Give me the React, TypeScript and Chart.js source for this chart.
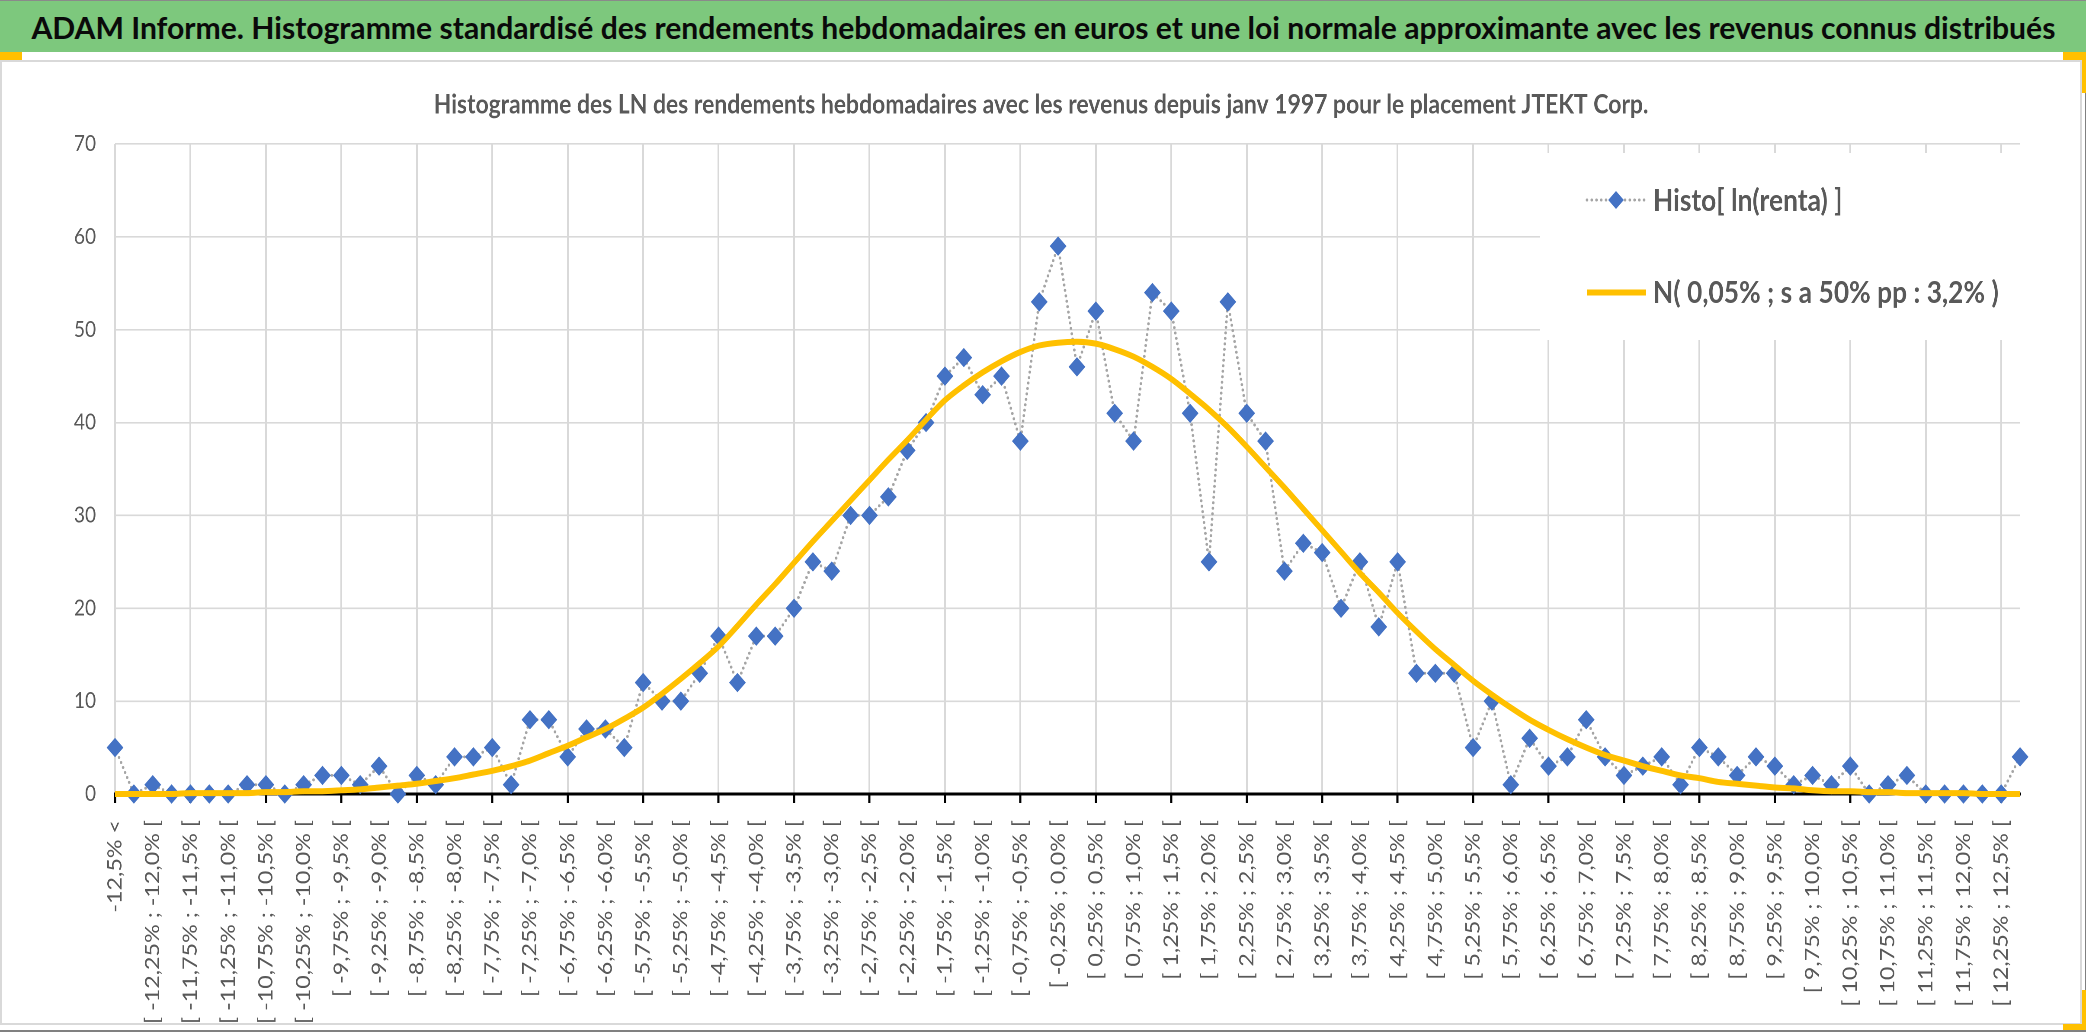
import React, { useEffect, useLayoutEffect, useRef } from "react";
import { Chart, registerables } from "chart.js";

Chart.register(...registerables);

// ---------- texts ----------
const headerTitle =
  "ADAM Informe. Histogramme standardisé des rendements hebdomadaires en euros et une loi normale approximante avec les revenus connus distribués";
const chartTitle =
  "Histogramme des LN des rendements hebdomadaires avec les revenus depuis janv 1997 pour le placement JTEKT Corp.";
const histoLabel = "Histo[ ln(renta) ]";
const normalLabel = "N( 0,05% ; s a 50% pp : 3,2% )";

// ---------- categories (weekly return bins) ----------
const categories = [
  "-12,5% <",
  "[ -12,5% ; -12,25% [", "[ -12,25% ; -12,0% [", "[ -12,0% ; -11,75% [", "[ -11,75% ; -11,5% [",
  "[ -11,5% ; -11,25% [", "[ -11,25% ; -11,0% [", "[ -11,0% ; -10,75% [", "[ -10,75% ; -10,5% [",
  "[ -10,5% ; -10,25% [", "[ -10,25% ; -10,0% [", "[ -10,0% ; -9,75% [", "[ -9,75% ; -9,5% [",
  "[ -9,5% ; -9,25% [", "[ -9,25% ; -9,0% [", "[ -9,0% ; -8,75% [", "[ -8,75% ; -8,5% [",
  "[ -8,5% ; -8,25% [", "[ -8,25% ; -8,0% [", "[ -8,0% ; -7,75% [", "[ -7,75% ; -7,5% [",
  "[ -7,5% ; -7,25% [", "[ -7,25% ; -7,0% [", "[ -7,0% ; -6,75% [", "[ -6,75% ; -6,5% [",
  "[ -6,5% ; -6,25% [", "[ -6,25% ; -6,0% [", "[ -6,0% ; -5,75% [", "[ -5,75% ; -5,5% [",
  "[ -5,5% ; -5,25% [", "[ -5,25% ; -5,0% [", "[ -5,0% ; -4,75% [", "[ -4,75% ; -4,5% [",
  "[ -4,5% ; -4,25% [", "[ -4,25% ; -4,0% [", "[ -4,0% ; -3,75% [", "[ -3,75% ; -3,5% [",
  "[ -3,5% ; -3,25% [", "[ -3,25% ; -3,0% [", "[ -3,0% ; -2,75% [", "[ -2,75% ; -2,5% [",
  "[ -2,5% ; -2,25% [", "[ -2,25% ; -2,0% [", "[ -2,0% ; -1,75% [", "[ -1,75% ; -1,5% [",
  "[ -1,5% ; -1,25% [", "[ -1,25% ; -1,0% [", "[ -1,0% ; -0,75% [", "[ -0,75% ; -0,5% [",
  "[ -0,5% ; -0,25% [", "[ -0,25% ; 0,0% [", "[ 0,0% ; 0,25% [", "[ 0,25% ; 0,5% [",
  "[ 0,5% ; 0,75% [", "[ 0,75% ; 1,0% [", "[ 1,0% ; 1,25% [", "[ 1,25% ; 1,5% [",
  "[ 1,5% ; 1,75% [", "[ 1,75% ; 2,0% [", "[ 2,0% ; 2,25% [", "[ 2,25% ; 2,5% [",
  "[ 2,5% ; 2,75% [", "[ 2,75% ; 3,0% [", "[ 3,0% ; 3,25% [", "[ 3,25% ; 3,5% [",
  "[ 3,5% ; 3,75% [", "[ 3,75% ; 4,0% [", "[ 4,0% ; 4,25% [", "[ 4,25% ; 4,5% [",
  "[ 4,5% ; 4,75% [", "[ 4,75% ; 5,0% [", "[ 5,0% ; 5,25% [", "[ 5,25% ; 5,5% [",
  "[ 5,5% ; 5,75% [", "[ 5,75% ; 6,0% [", "[ 6,0% ; 6,25% [", "[ 6,25% ; 6,5% [",
  "[ 6,5% ; 6,75% [", "[ 6,75% ; 7,0% [", "[ 7,0% ; 7,25% [", "[ 7,25% ; 7,5% [",
  "[ 7,5% ; 7,75% [", "[ 7,75% ; 8,0% [", "[ 8,0% ; 8,25% [", "[ 8,25% ; 8,5% [",
  "[ 8,5% ; 8,75% [", "[ 8,75% ; 9,0% [", "[ 9,0% ; 9,25% [", "[ 9,25% ; 9,5% [",
  "[ 9,5% ; 9,75% [", "[ 9,75% ; 10,0% [", "[ 10,0% ; 10,25% [", "[ 10,25% ; 10,5% [",
  "[ 10,5% ; 10,75% [", "[ 10,75% ; 11,0% [", "[ 11,0% ; 11,25% [", "[ 11,25% ; 11,5% [",
  "[ 11,5% ; 11,75% [", "[ 11,75% ; 12,0% [", "[ 12,0% ; 12,25% [", "[ 12,25% ; 12,5% [",
  "> 12,5%",
];

// ---------- series ----------
const histoValues = [
  5, 0, 1, 0, 0, 0, 0, 1, 1, 0,
  1, 2, 2, 1, 3, 0, 2, 1, 4, 4,
  5, 1, 8, 8, 4, 7, 7, 5, 12, 10,
  10, 13, 17, 12, 17, 17, 20, 25, 24, 30,
  30, 32, 37, 40, 45, 47, 43, 45, 38, 53,
  59, 46, 52, 41, 38, 54, 52, 41, 25, 53,
  41, 38, 24, 27, 26, 20, 25, 18, 25, 13,
  13, 13, 5, 10, 1, 6, 3, 4, 8, 4,
  2, 3, 4, 1, 5, 4, 2, 4, 3, 1,
  2, 1, 3, 0, 1, 2, 0, 0, 0, 0,
  0, 4,
];

const normalValues = [
  0.0, 0.0, 0.0, 0.0, 0.1, 0.1, 0.1, 0.1, 0.2, 0.2,
  0.3, 0.3, 0.4, 0.5, 0.7, 0.9, 1.1, 1.4, 1.7, 2.1,
  2.5, 3.0, 3.6, 4.4, 5.2, 6.1, 7.0, 8.1, 9.3, 10.8,
  12.4, 14.1, 15.9, 18.1, 20.4, 22.6, 24.9, 27.2, 29.4, 31.6,
  33.8, 36.0, 38.1, 40.3, 42.4, 44.0, 45.4, 46.6, 47.6, 48.3,
  48.6, 48.7, 48.5, 47.9, 47.1, 46.0, 44.7, 43.1, 41.4, 39.5,
  37.4, 35.2, 33.0, 30.7, 28.4, 26.1, 23.8, 21.7, 19.5, 17.5,
  15.6, 13.9, 12.2, 10.7, 9.3, 8.0, 6.9, 5.9, 5.0, 4.2,
  3.6, 3.0, 2.5, 2.0, 1.7, 1.3, 1.1, 0.9, 0.7, 0.6,
  0.4, 0.3, 0.3, 0.2, 0.2, 0.1, 0.1, 0.1, 0.1, 0.0,
  0.0, 0.0,
];

const yMin = 0;
const yMax = 70;
const yStep = 10;

// ---------- layout (page pixels) ----------
const K = 0.865; // horizontal squeeze of the pasted chart picture
const PAGE_W = 2086;
const PAGE_H = 1032;
const FRAME_TOP = 61;
const FRAME_W = 2082;
const FRAME_H = 964;
const CANVAS_W = Math.round(FRAME_W / K);
const PLOT_LEFT = 115;
const PLOT_RIGHT = 2020;
const PLOT_BOTTOM = 794;
const HEADER_TEXT_W = 2024;

const GRID = "#D9D9D9";
const TEXT = "#595959";
const FONT = "Lato";

const X = (v: number) => v / K;
const Y = (v: number) => v - FRAME_TOP;

const boxLegend = {
  id: "boxLegend",
  beforeDatasetsDraw(chart: any) {
    const ctx = chart.ctx as CanvasRenderingContext2D;
    const [h, n] = chart.data.datasets as any[];
    ctx.save();
    ctx.fillStyle = "#FFFFFF";
    ctx.fillRect(X(1540), Y(153), X(2021) - X(1540), Y(340) - Y(153));

    const y1 = Y(200);
    ctx.strokeStyle = h.borderColor;
    ctx.lineWidth = h.borderWidth;
    ctx.lineCap = "round";
    ctx.setLineDash(h.borderDash);
    ctx.beginPath();
    ctx.moveTo(X(1587), y1);
    ctx.lineTo(X(1646), y1);
    ctx.stroke();
    ctx.setLineDash([]);
    const r = h.pointRadius;
    const cx = X(1616);
    ctx.fillStyle = h.pointBackgroundColor;
    ctx.beginPath();
    ctx.moveTo(cx - r, y1);
    ctx.lineTo(cx, y1 - r);
    ctx.lineTo(cx + r, y1);
    ctx.lineTo(cx, y1 + r);
    ctx.closePath();
    ctx.fill();

    const y2 = Y(292.5);
    ctx.strokeStyle = n.borderColor;
    ctx.lineWidth = n.borderWidth;
    ctx.lineCap = "butt";
    ctx.beginPath();
    ctx.moveTo(X(1587), y2);
    ctx.lineTo(X(1646), y2);
    ctx.stroke();

    ctx.fillStyle = TEXT;
    ctx.font = `bold 30.5px ${FONT}`;
    ctx.textAlign = "left";
    ctx.textBaseline = "alphabetic";
    ctx.fillText(h.label, X(1653), Y(211));
    ctx.fillText(n.label, X(1653), Y(303));
    ctx.restore();
  },
};

export default function App() {
  const canvasRef = useRef<HTMLCanvasElement>(null);
  const hdrRef = useRef<HTMLSpanElement>(null);

  useLayoutEffect(() => {
    const el = hdrRef.current;
    if (!el) return;
    el.style.transform = "none";
    const w = el.getBoundingClientRect().width;
    if (w > 0) el.style.transform = `scaleX(${HEADER_TEXT_W / w})`;
  }, []);

  useEffect(() => {
    if (!canvasRef.current) return;
    const chart = new Chart(canvasRef.current, {
      type: "line",
      data: {
        labels: categories,
        datasets: [
          {
            label: histoLabel,
            data: histoValues,
            borderColor: "#A5A5A5",
            borderWidth: 3,
            borderDash: [0, 5.5],
            borderCapStyle: "round",
            pointStyle: "rectRot",
            pointRadius: 9,
            pointBackgroundColor: "#4472C4",
            pointBorderColor: "#4472C4",
            pointBorderWidth: 1,
            tension: 0,
            clip: false,
            order: 2,
          } as any,
          {
            label: normalLabel,
            data: normalValues,
            borderColor: "#FFC000",
            borderWidth: 6,
            pointRadius: 0,
            cubicInterpolationMode: "monotone",
            clip: false,
            order: 1,
          } as any,
        ],
      },
      options: {
        responsive: false,
        maintainAspectRatio: false,
        animation: false,
        devicePixelRatio: 2,
        events: [],
        layout: { padding: 0 },
        plugins: {
          legend: { display: false },
          tooltip: { enabled: false },
          title: {
            display: true,
            text: chartTitle,
            color: TEXT,
            font: { family: FONT, size: 26.5, weight: "bold" },
            padding: { top: 28, bottom: 23.2 },
          },
        },
        scales: {
          x: {
            type: "category",
            offset: false,
            grid: {
              color: (c: any) => (c.index % 4 === 0 ? GRID : "rgba(0,0,0,0)"),
              lineWidth: 2,
              drawTicks: true,
              tickLength: 9,
              tickWidth: 2.5,
              tickColor: (c: any) => (c.index % 4 === 0 ? "#000000" : "rgba(0,0,0,0)"),
            },
            border: { display: true, color: "#000000", width: 3 },
            ticks: {
              autoSkip: false,
              minRotation: 90,
              maxRotation: 90,
              padding: 17,
              color: TEXT,
              font: { family: FONT, size: 23.3 },
              callback: (_v: any, i: number) => (i % 2 === 0 ? categories[i] : ""),
            },
            afterFit: (s: any) => {
              s.height = FRAME_H - Y(PLOT_BOTTOM);
            },
          },
          y: {
            min: yMin,
            max: yMax,
            grid: { color: GRID, lineWidth: 1.6, drawTicks: false },
            border: { display: false },
            ticks: {
              stepSize: yStep,
              padding: X(PLOT_LEFT) - X(96),
              color: TEXT,
              font: { family: FONT, size: 22 },
            },
            afterFit: (s: any) => {
              s.width = X(PLOT_LEFT);
            },
          },
          // empty right-hand margin so the plot ends where the reference's does
          yRight: {
            type: "linear",
            position: "right",
            display: true,
            min: yMin,
            max: yMax,
            grid: { display: false, drawTicks: false },
            border: { display: false },
            ticks: { display: false },
            afterFit: (s: any) => {
              s.width = X(FRAME_W) - X(PLOT_RIGHT);
            },
          },
        },
      },
      plugins: [boxLegend],
    });
    return () => chart.destroy();
  }, []);

  const box = (l: number, t: number, w: number, h: number, bg: string) => (
    <div style={{ position: "absolute", left: l, top: t, width: w, height: h, background: bg }} />
  );

  return (
    <div
      style={{
        position: "relative",
        width: PAGE_W,
        height: PAGE_H,
        overflow: "hidden",
        background: "#FFFFFF",
      }}
    >
      <style>{`html,body{margin:0;padding:0;overflow:hidden;background:#fff}`}</style>
      <div
        style={{
          position: "absolute",
          left: 0,
          top: 0,
          width: PAGE_W,
          height: 52,
          background: "#7DC87D",
          borderTop: "1px solid #8A8A8A",
          boxSizing: "border-box",
          display: "flex",
          alignItems: "center",
          justifyContent: "center",
        }}
      >
        <span
          ref={hdrRef}
          style={{
            display: "inline-block",
            whiteSpace: "nowrap",
            fontFamily: FONT,
            fontWeight: 700,
            fontSize: 30,
            lineHeight: 1,
            color: "#0A0A0A",
            transformOrigin: "50% 50%",
            flexShrink: 0,
          }}
        >
          {headerTitle}
        </span>
      </div>
      {/* chart frame */}
      <div
        style={{
          position: "absolute",
          left: 0,
          top: 60,
          width: FRAME_W,
          height: FRAME_H + 1,
          border: "2px solid #D9D9D9",
          boxSizing: "border-box",
        }}
      />
      {box(0, 52, 22, 8, "#FFC000")}
      {box(2063, 52, 23, 8, "#FFC000")}
      {box(2082, 60, 4, 33, "#FFC000")}
      {box(2082, 990, 4, 35, "#FFC000")}
      {box(2063, 1024, 23, 6, "#FFC000")}
      {box(0, 1030, PAGE_W, 2, "#808080")}
      {box(2085, 93, 1, 897, "#808080")}
      <div
        style={{
          position: "absolute",
          left: 0,
          top: FRAME_TOP,
          width: CANVAS_W,
          height: FRAME_H,
          transform: `scaleX(${K})`,
          transformOrigin: "0 0",
        }}
      >
        <canvas ref={canvasRef} width={CANVAS_W} height={FRAME_H} style={{ display: "block" }} />
      </div>
    </div>
  );
}
